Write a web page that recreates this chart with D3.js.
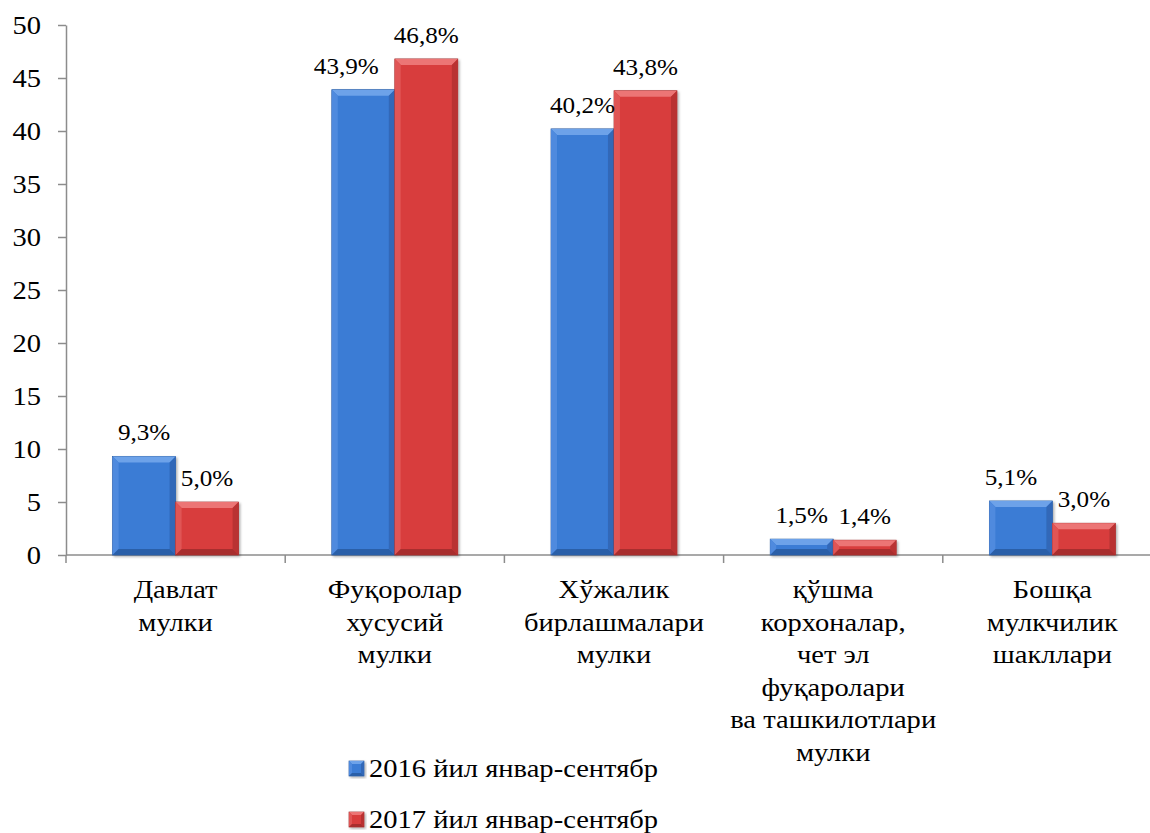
<!DOCTYPE html>
<html>
<head>
<meta charset="utf-8">
<script src="https://cdn.jsdelivr.net/npm/d3@7"></script>
</head>
<body style="margin:0">
<div class="chart"></div>
<script>
// ── Data ─────────────────────────────────────────────────────────────────
const categories = [
	['Давлат', 'мулки'],
	['Фуқоролар', 'хусусий', 'мулки'],
	['Хўжалик', 'бирлашмалари', 'мулки'],
	['қўшма', 'корхоналар,', 'чет эл', 'фуқаролари', 'ва ташкилотлари', 'мулки'],
	['Бошқа', 'мулкчилик', 'шакллари']
];
const seriesNames = ['2016 йил январ-сентябр', '2017 йил январ-сентябр'];
const values2016 = [9.3, 43.9, 40.2, 1.5, 5.1];
const values2017 = [5.0, 46.8, 43.8, 1.4, 3.0];
const yTicks = [0, 5, 10, 15, 20, 25, 30, 35, 40, 45, 50];

// ── Layout ───────────────────────────────────────────────────────────────
const WIDTH = 1150;
const HEIGHT = 833;
const FONT = '"Liberation Serif"';
// the original picture is a little wider than tall, text is stretched the same way
const SX = 1.12;
const MARGINS = {top: 25, left: 66, bottom: 278};
const PLOT_RIGHT = 1162;
const COLORS = [
	{base: '#3a7bd5', light: '#6da2e9', side: '#4f8ade', dark: '#3068b8', bottom: '#2c5fa8', edge: '#2a5a9e'},
	{base: '#d83e3e', light: '#ec7474', side: '#e05454', dark: '#b93333', bottom: '#a82d2d', edge: '#9c2a2a'}
];
// small nudges so a label does not sit on the taller neighbour bar
const labelNudge = [[0, 0], [-17, 0], [0, 0], [0, 0], [-10, 0]];

const fmt = (v) => v.toFixed(1).replace('.', ',') + '%';

const data = categories.map((lines, i) => ({
	key: i,
	lines,
	values: [values2016[i], values2017[i]]
}));

// moves x/y into a transform so the glyphs can be widened like the original
function stretch(selection)
{
	selection.each(function()
	{
		const t = d3.select(this);
		const x = +t.attr('x') || 0;
		const y = +t.attr('y') || 0;
		t.attr('x', 0).attr('y', 0)
		.attr('transform', `translate(${x},${y}) scale(${SX},1)`)
		.style('font-family', FONT)
		.attr('fill', '#000');
	});
}

const svg = d3.select('.chart').append('svg')
.attr('width', WIDTH)
.attr('height', HEIGHT);

const defs = svg.append('defs');
const shadow = defs.append('filter').attr('id', 'shadow')
.attr('x', '-10%').attr('y', '-10%').attr('width', '130%').attr('height', '130%');
shadow.append('feDropShadow').attr('dx', 1.5).attr('dy', 1.5).attr('stdDeviation', 1.2)
.attr('flood-color', '#000').attr('flood-opacity', 0.3);

const yScale = d3.scaleLinear()
.domain([0, 50])
.range([HEIGHT - MARGINS.bottom, MARGINS.top]);

const xScale = d3.scaleBand()
.domain(data.map((d) => d.key))
.range([MARGINS.left, PLOT_RIGHT]);

const xInner = d3.scaleBand()
.domain([0, 1])
.range([0, xScale.bandwidth()])
.paddingInner(0)
.paddingOuter(0.74);

// y axis
const yAxisGroup = svg.append('g')
.attr('transform', `translate(${MARGINS.left},0)`)
.call(d3.axisLeft(yScale).tickValues(yTicks).tickSize(8).tickPadding(17).tickSizeOuter(0));
yAxisGroup.attr('font-family', null).attr('font-size', 25.5);
yAxisGroup.selectAll('text').attr('dy', '0.34em').call(stretch);
yAxisGroup.selectAll('line, path').attr('stroke', '#8c8c8c').attr('stroke-width', 1.5);

// x axis line and boundary ticks
const baseY = yScale(0);
svg.append('line')
.attr('x1', MARGINS.left).attr('x2', PLOT_RIGHT)
.attr('y1', baseY).attr('y2', baseY)
.attr('stroke', '#8c8c8c').attr('stroke-width', 1.5);

svg.selectAll('.xtick')
.data(d3.range(data.length + 1))
.join('line')
.attr('class', 'xtick')
.attr('x1', (i) => MARGINS.left + i * xScale.step())
.attr('x2', (i) => MARGINS.left + i * xScale.step())
.attr('y1', baseY)
.attr('y2', baseY + 8)
.attr('stroke', '#8c8c8c').attr('stroke-width', 1.5);

// bevelled bars
function drawBar(group, x, y, w, h, c, size)
{
	const b = Math.min(size, h / 2.2, w / 2.2);
	const g = group.append('g').attr('filter', 'url(#shadow)');
	g.append('rect').attr('x', x).attr('y', y).attr('width', w).attr('height', h)
	.attr('fill', c.base).attr('stroke', c.edge).attr('stroke-width', 0.7);
	const poly = (pts, fill) => g.append('polygon')
	.attr('points', pts.map((p) => p.join(',')).join(' '))
	.attr('fill', fill);
	poly([[x, y], [x + w, y], [x + w - b, y + b], [x + b, y + b]], c.light);
	poly([[x, y], [x + b, y + b], [x + b, y + h - b], [x, y + h]], c.side);
	poly([[x + w, y], [x + w, y + h], [x + w - b, y + h - b], [x + w - b, y + b]], c.dark);
	poly([[x, y + h], [x + b, y + h - b], [x + w - b, y + h - b], [x + w, y + h]], c.bottom);
}

const groups = svg.selectAll('.cat')
.data(data)
.join('g')
.attr('class', 'cat')
.attr('transform', (d) => `translate(${xScale(d.key)},0)`);

groups.each(function(d)
{
	const group = d3.select(this);
	d.values.forEach((v, s) =>
	{
		const x = xInner(s);
		const y = yScale(v);
		drawBar(group, x, y, xInner.bandwidth(), baseY - y, COLORS[s], 6);
	});
});

// data labels
groups.each(function(d)
{
	const group = d3.select(this);
	d.values.forEach((v, s) =>
	{
		group.append('text')
		.attr('x', xInner(s) + xInner.bandwidth() / 2 + labelNudge[d.key][s])
		.attr('y', yScale(v) - 16)
		.attr('text-anchor', 'middle')
		.attr('font-size', 22.5)
		.text(fmt(v))
		.call(stretch);
	});
});

// category labels, one text per line
groups.selectAll('.catlabel')
.data((d) => d.lines)
.join('text')
.attr('class', 'catlabel')
.attr('text-anchor', 'middle')
.attr('font-size', 25.5)
.attr('x', xScale.bandwidth() / 2)
.attr('y', (line, i) => baseY + 43 + i * 32.5)
.text((line) => line)
.call(stretch);

// legend
const legend = svg.selectAll('.legend')
.data(seriesNames)
.join('g')
.attr('class', 'legend')
.attr('transform', (d, i) => `translate(349,${761 + i * 51})`);

legend.each(function(d, i)
{
	drawBar(d3.select(this), 0, 0, 15, 15, COLORS[i], 3);
});

legend.append('text')
.attr('x', 20)
.attr('y', 16)
.attr('font-size', 25.5)
.text((d) => d)
.call(stretch);
</script>
</body>
</html>
